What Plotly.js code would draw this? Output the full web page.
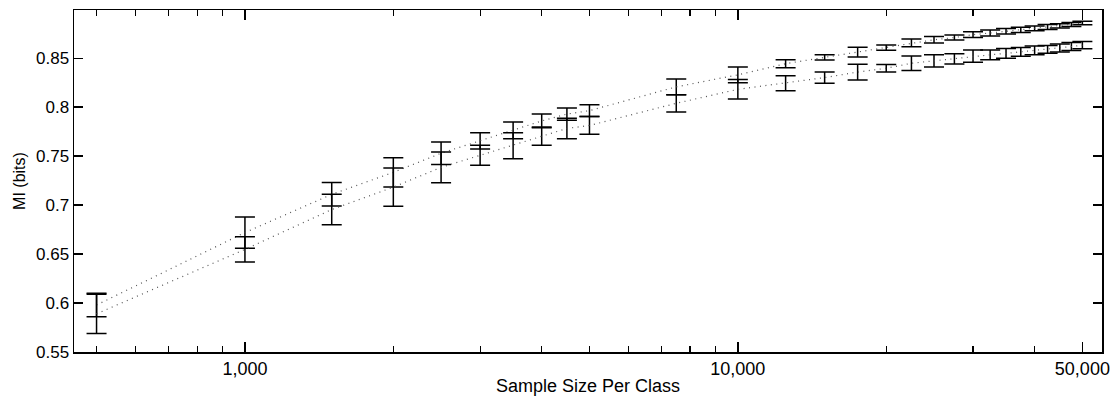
<!DOCTYPE html>
<html>
<head>
<meta charset="utf-8">
<script src="https://cdn.plot.ly/plotly-3.0.1.min.js"></script>
<style>html,body{margin:0;padding:0;background:#fff;}#chart{width:1112px;height:396px;}</style>
</head>
<body>
<div id="chart"></div>
<script>
const sampleSizes = [500, 1000, 1500, 2000, 2500, 3000, 3500, 4000, 4500, 5000, 7500, 10000, 12500, 15000, 17500, 20000, 22500, 25000, 27500, 30000, 32500, 35000, 37500, 40000, 42500, 45000, 47500, 50000];

const upperMean = [0.598, 0.672, 0.711, 0.7335, 0.753, 0.7657, 0.7764, 0.786, 0.793, 0.7965, 0.8208, 0.8331, 0.8445, 0.851, 0.8563, 0.8609, 0.8657, 0.8689, 0.8712, 0.8741, 0.8758, 0.8775, 0.879, 0.8805, 0.882, 0.883, 0.8845, 0.886];
const upperErr  = [0.012, 0.016, 0.012, 0.015, 0.0114, 0.0083, 0.0085, 0.007, 0.0063, 0.006, 0.008, 0.008, 0.0041, 0.0027, 0.005, 0.0027, 0.004, 0.0033, 0.0026, 0.003, 0.003, 0.0028, 0.0028, 0.0025, 0.0025, 0.0022, 0.002, 0.0018];

const lowerMean = [0.589, 0.6548, 0.6955, 0.7184, 0.7386, 0.7509, 0.7607, 0.7705, 0.7783, 0.7814, 0.804, 0.8183, 0.8245, 0.8303, 0.8359, 0.8398, 0.8449, 0.8474, 0.8494, 0.8522, 0.8535, 0.855, 0.8565, 0.858, 0.859, 0.8605, 0.862, 0.8633];
const lowerErr  = [0.020, 0.013, 0.0155, 0.0196, 0.0157, 0.0102, 0.0133, 0.0094, 0.0104, 0.009, 0.0088, 0.0099, 0.0077, 0.0058, 0.008, 0.0038, 0.0075, 0.0063, 0.0052, 0.0063, 0.005, 0.005, 0.0045, 0.0045, 0.004, 0.004, 0.004, 0.0037];

const xMajorTicks = [1000, 10000, 50000];
const xMajorLabels = ["1,000", "10,000", "50,000"];
const xMinorTicks = [500, 600, 700, 800, 900, 2000, 3000, 4000, 5000, 6000, 7000, 8000, 9000, 20000, 30000, 40000];
const yTicks = [0.55, 0.6, 0.65, 0.7, 0.75, 0.8, 0.85];
const yLabels = ["0.55", "0.6", "0.65", "0.7", "0.75", "0.8", "0.85"];

function series(means, errs) {
  return {
    x: sampleSizes, y: means, type: 'scatter', mode: 'lines',
    line: {color: '#555', width: 1.2, dash: '1px,4.5px'},
    error_y: {type: 'data', array: errs, visible: true, color: '#000', thickness: 1.5, width: 10},
    showlegend: false, hoverinfo: 'skip'
  };
}

const data = [series(upperMean, upperErr), series(lowerMean, lowerErr)];

const font = {family: 'Liberation Sans, Arial, sans-serif', color: '#000'};
const layout = {
  width: 1112, height: 396,
  margin: {l: 74, r: 10, t: 10, b: 44, pad: 0},
  paper_bgcolor: '#fff', plot_bgcolor: '#fff',
  font: Object.assign({size: 17}, font),
  showlegend: false,
  xaxis: {
    type: 'log', range: [Math.log10(450), Math.log10(54800)],
    tickmode: 'array', tickvals: xMajorTicks, ticktext: xMajorLabels,
    ticks: 'inside', ticklen: 10, tickwidth: 1.5, tickcolor: '#000',
    minor: {tickmode: 'array', tickvals: xMinorTicks, ticks: 'inside', ticklen: 6, tickwidth: 1.2, tickcolor: '#000', showgrid: false},
    showline: true, linecolor: '#000', linewidth: 1.5, mirror: 'ticks',
    showgrid: false, zeroline: false,
    tickfont: Object.assign({size: 18}, font),
    title: {text: 'Sample Size Per Class', font: Object.assign({size: 18}, font), standoff: 4},
    automargin: false
  },
  yaxis: {
    range: [0.55, 0.8993],
    tickmode: 'array', tickvals: yTicks, ticktext: yLabels,
    ticks: 'inside', ticklen: 9, tickwidth: 1.5, tickcolor: '#000',
    showline: true, linecolor: '#000', linewidth: 1.5, mirror: 'ticks',
    showgrid: false, zeroline: false,
    tickfont: Object.assign({size: 17}, font),
    title: {text: 'MI (bits)', font: Object.assign({size: 16}, font), standoff: 6},
    automargin: false
  }
};

Plotly.newPlot('chart', data, layout, {staticPlot: true, displayModeBar: false});
</script>
</body>
</html>
